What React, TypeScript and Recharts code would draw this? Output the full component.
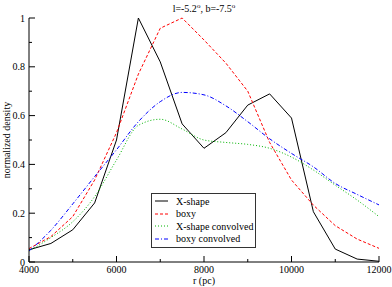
import React from 'react';
import { LineChart, Line, XAxis, YAxis, Legend } from 'recharts';

// radius in pc, 500 pc steps
const radius = [4000, 4500, 5000, 5500, 6000, 6500, 7000, 7500, 8000, 8500, 9000, 9500, 10000, 10500, 11000, 11500, 12000];
const xShape = [0.05, 0.076, 0.132, 0.242, 0.5, 1.0, 0.82, 0.566, 0.466, 0.53, 0.643, 0.689, 0.59, 0.206, 0.053, 0.012, 0.003];
const boxy = [0.055, 0.104, 0.186, 0.336, 0.53, 0.77, 0.958, 1.0, 0.91, 0.815, 0.7, 0.49, 0.336, 0.233, 0.149, 0.094, 0.056];
const xShapeConv = [0.045, 0.1, 0.165, 0.268, 0.418, 0.56, 0.585, 0.545, 0.5, 0.49, 0.482, 0.466, 0.43, 0.377, 0.315, 0.254, 0.186];
const boxyConv = [0.045, 0.13, 0.238, 0.35, 0.46, 0.575, 0.657, 0.695, 0.685, 0.64, 0.575, 0.505, 0.445, 0.39, 0.322, 0.277, 0.234];

const xTicks = [4000, 5000, 6000, 7000, 8000, 9000, 10000, 11000, 12000];
const yTicks = [0, 0.1, 0.2, 0.3, 0.4, 0.5, 0.6, 0.7, 0.8, 0.9, 1];

const data = radius.map((r, i) => ({
  r,
  xShape: xShape[i],
  boxy: boxy[i],
  xShapeConv: xShapeConv[i],
  boxyConv: boxyConv[i],
}));

const series = [
  { key: 'xShape', name: 'X-shape', color: '#000000', dash: undefined, type: 'linear' },
  { key: 'boxy', name: 'boxy', color: '#ff0000', dash: '3 2', type: 'linear' },
  { key: 'xShapeConv', name: 'X-shape convolved', color: '#00b400', dash: '1 2', type: 'monotone' },
  { key: 'boxyConv', name: 'boxy convolved', color: '#0000ff', dash: '4 2 1 2', type: 'monotone' },
];

const FONT = '"Liberation Serif", "DejaVu Serif", serif';
const MAJOR = 6;
const MINOR = 3;

const isMajorX = (v: number) => v % 2000 === 0;
const isMajorY = (v: number) => Math.round(v * 10) % 2 === 0;

const BottomTick = (props: any) => {
  const { x, y, payload } = props;
  const v = payload.value;
  const len = isMajorX(v) ? MAJOR : MINOR;
  return (
    <g>
      <line x1={x} x2={x} y1={y} y2={y - len} stroke="#000" />
      {isMajorX(v) && (
        <text x={x} y={y + 11} textAnchor="middle" fontSize={10} fontFamily={FONT} fill="#000">{v}</text>
      )}
    </g>
  );
};

const TopTick = (props: any) => {
  const { x, y, payload } = props;
  const len = isMajorX(payload.value) ? MAJOR : MINOR;
  return <line x1={x} x2={x} y1={y} y2={y + len} stroke="#000" />;
};

const LeftTick = (props: any) => {
  const { x, y, payload } = props;
  const v = payload.value;
  const len = isMajorY(v) ? MAJOR : MINOR;
  return (
    <g>
      <line x1={x} x2={x + len} y1={y} y2={y} stroke="#000" />
      {isMajorY(v) && (
        <text x={x - 4} y={y + 3.5} textAnchor="end" fontSize={10} fontFamily={FONT} fill="#000">
          {String(Math.round(v * 10) / 10)}
        </text>
      )}
    </g>
  );
};

const RightTick = (props: any) => {
  const { x, y, payload } = props;
  const len = isMajorY(payload.value) ? MAJOR : MINOR;
  return <line x1={x} x2={x - len} y1={y} y2={y} stroke="#000" />;
};

const renderLegend = () => (
  <div
    style={{
      border: '1px solid #333',
      background: '#fff',
      width: 103,
      height: 52,
      boxSizing: 'content-box',
      paddingTop: 1,
    }}
  >
    {series.map((s) => (
      <div key={s.key} style={{ display: 'flex', alignItems: 'center', height: 12.5, fontFamily: FONT, fontSize: 10, color: '#000' }}>
        <svg width={24} height={12} style={{ flex: 'none' }}>
          <line x1={3} x2={16} y1={6} y2={6} stroke={s.color} strokeDasharray={s.dash} />
        </svg>
        <span style={{ whiteSpace: 'nowrap' }}>{s.name}</span>
      </div>
    ))}
  </div>
);

export default function App() {
  return (
    <div style={{ position: 'absolute', left: 0, top: 0, width: 392, height: 287, background: '#fff' }}>
      <div
        style={{
          position: 'absolute',
          left: 29,
          width: 350,
          top: 0,
          textAlign: 'center',
          fontFamily: FONT,
          fontSize: 10,
          lineHeight: '12px',
        }}
      >
        l=-5.2<sup style={{ fontSize: 7 }}>o</sup>, b=-7.5<sup style={{ fontSize: 7 }}>o</sup>
      </div>
      <LineChart width={392} height={287} data={data} margin={{ top: 18, right: 13, bottom: 0, left: 0 }}>
        <XAxis
          dataKey="r"
          type="number"
          domain={[4000, 12000]}
          ticks={xTicks}
          interval={0}
          height={25}
          tickSize={0}
          tickMargin={0}
          tickLine={false}
          axisLine={{ stroke: '#000' }}
          tick={BottomTick}
          label={{ value: 'r (pc)', position: 'insideBottom', offset: 3, fontSize: 10, fontFamily: FONT, fill: '#000' }}
        />
        <XAxis
          xAxisId="top"
          orientation="top"
          dataKey="r"
          type="number"
          domain={[4000, 12000]}
          ticks={xTicks}
          interval={0}
          height={0}
          tickSize={0}
          tickMargin={0}
          tickLine={false}
          axisLine={{ stroke: '#000' }}
          tick={TopTick}
        />
        <YAxis
          type="number"
          domain={[0, 1]}
          ticks={yTicks}
          interval={0}
          width={29}
          tickSize={0}
          tickMargin={0}
          tickLine={false}
          axisLine={{ stroke: '#000' }}
          tick={LeftTick}
          label={{ value: 'normalized density', angle: -90, position: 'insideLeft', offset: 6, fontSize: 10, fontFamily: FONT, fill: '#000', style: { textAnchor: 'middle' } }}
        />
        <YAxis
          yAxisId="right"
          orientation="right"
          type="number"
          domain={[0, 1]}
          ticks={yTicks}
          interval={0}
          width={0}
          tickSize={0}
          tickMargin={0}
          tickLine={false}
          axisLine={{ stroke: '#000' }}
          tick={RightTick}
        />
        <Legend
          layout="vertical"
          align="center"
          verticalAlign="middle"
          content={renderLegend}
          wrapperStyle={{ left: 151, top: 193, width: 105, height: 54 }}
        />
        {series.map((s) => (
          <Line
            key={s.key}
            dataKey={s.key}
            name={s.name}
            type={s.type as any}
            stroke={s.color}
            strokeWidth={1}
            strokeDasharray={s.dash}
            dot={false}
            activeDot={false}
            isAnimationActive={false}
          />
        ))}
      </LineChart>
    </div>
  );
}
